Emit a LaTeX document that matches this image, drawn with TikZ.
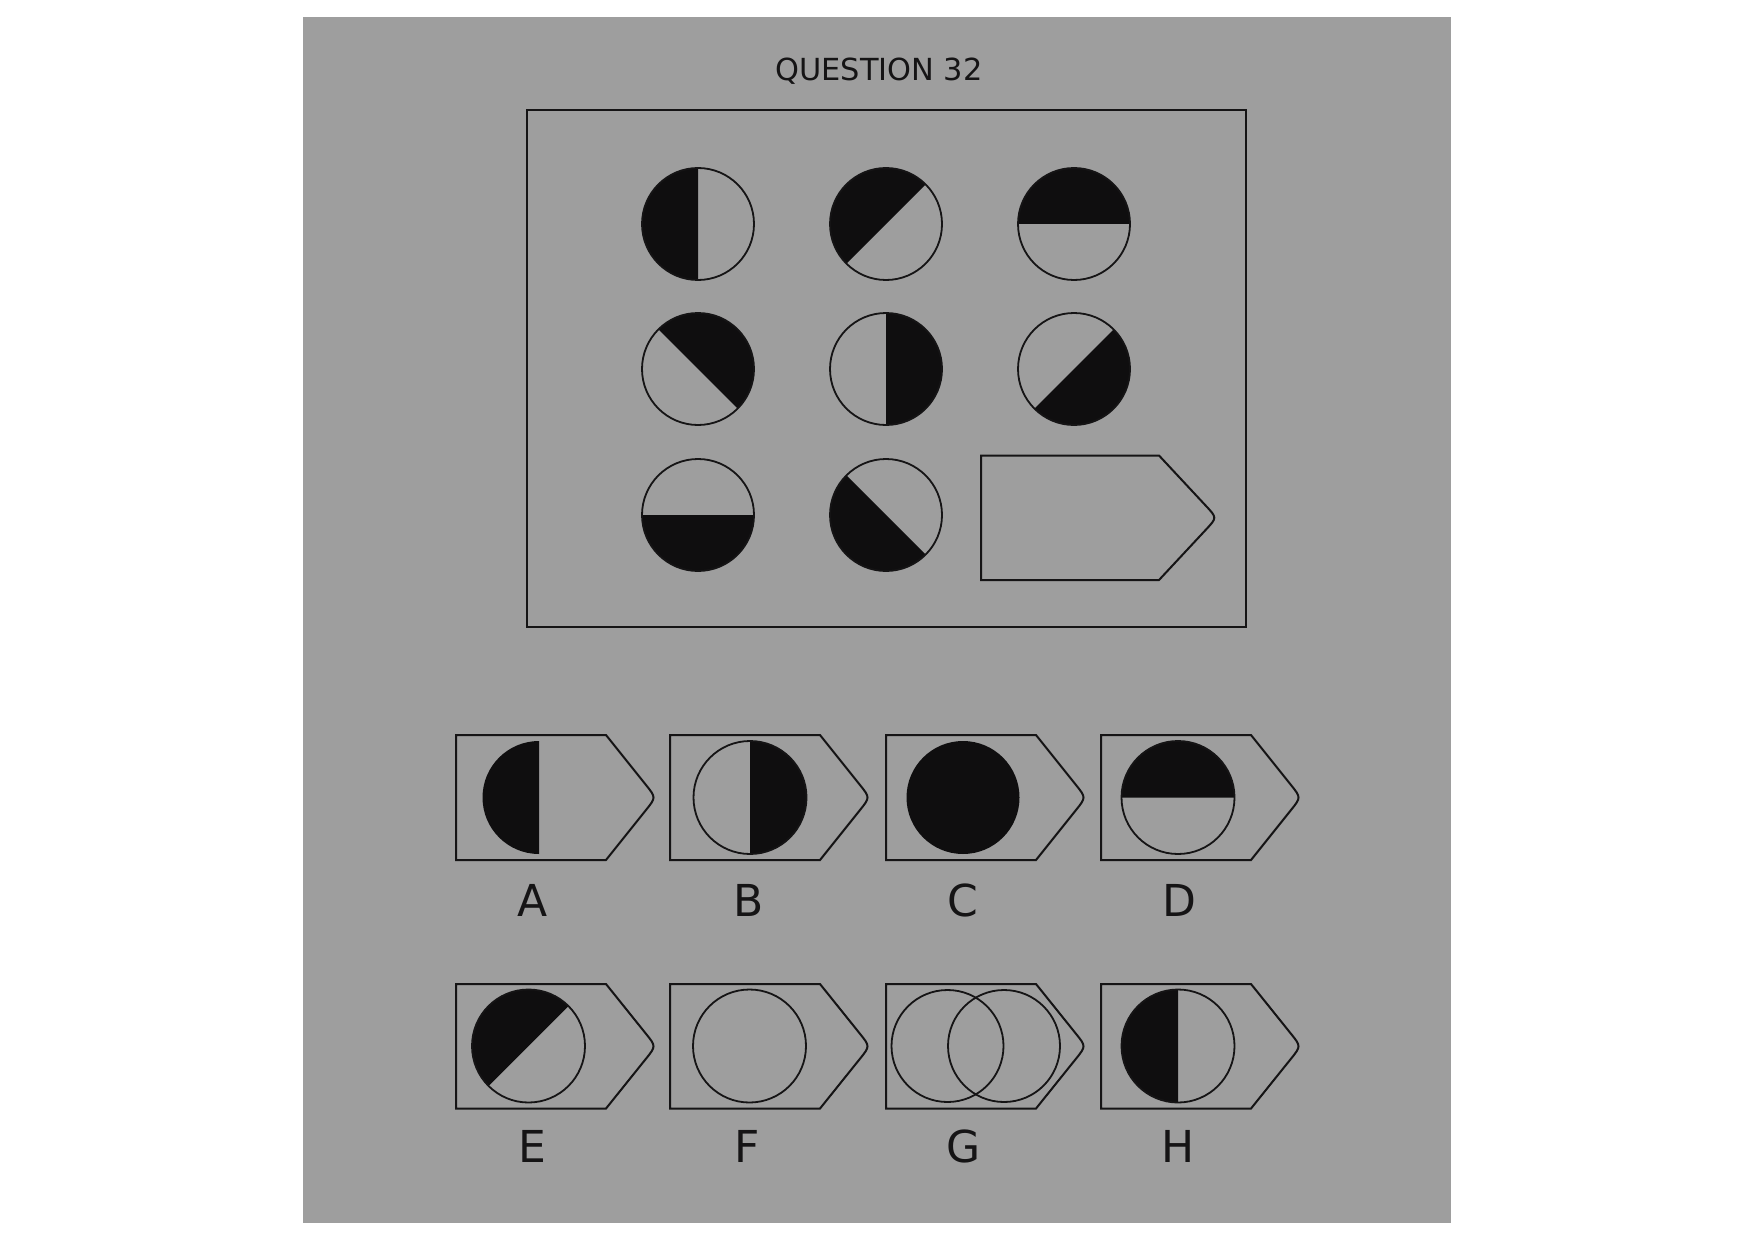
\documentclass[tikz,border=0pt]{standalone}
\usepackage{fontspec}
\setmainfont{DejaVu Sans}
\usetikzlibrary{calc}
\definecolor{bggray}{HTML}{9E9E9E}
\definecolor{ink}{HTML}{151415}
\definecolor{blk}{HTML}{0F0E0F}
\tikzset{
  pline/.style={draw=ink, line width=1pt, line join=miter},
  cline/.style={draw=ink, line width=0.9pt},
  blkfill/.style={fill=blk},
  lbl/.style={font=\fontsize{22pt}{24pt}\selectfont, text=ink, anchor=base, inner sep=0pt},
}
% pentagon: x y (top-left, px), rect width, height, tip width
\newcommand\pent[5]{%
  \coordinate (pUL) at (#1,-#2);
  \coordinate (pUR) at ({#1+#3},-#2);
  \coordinate (pT) at ({#1+#3+#5},{-#2-#4/2});
  \coordinate (pLR) at ({#1+#3},{-#2-#4});
  \coordinate (pLL) at (#1,{-#2-#4});
  \draw[pline] (pUL) -- (pUR) -- ($(pT)!8pt!(pUR)$) .. controls (pT) .. ($(pT)!8pt!(pLR)$) -- (pLR) -- (pLL) -- cycle;}
% half disk: x y r start-angle
\newcommand\halfdisk[4]{%
  \fill[blkfill] (#1,-#2) ++(#4:#3) arc[start angle=#4, end angle={#4+180}, radius=#3] -- cycle;}
\newcommand\ring[3]{\draw[cline] (#1,-#2) circle[radius=#3];}
\begin{document}
\begin{tikzpicture}[x=0.5pt,y=0.5pt]
\useasboundingbox (0,0) rectangle (1754,-1241);
\fill[bggray] (303,-17) rectangle (1451,-1223);
\node[font=\fontsize{15.2pt}{17pt}\selectfont, text=ink, anchor=base, inner sep=0pt] (title) at (879,-81) {QUESTION 32};
\draw[pline] (527,-110) rectangle (1246,-627);
% matrix
\halfdisk{698}{224}{56}{90}\ring{698}{224}{56}
\halfdisk{886}{224}{56}{45}\ring{886}{224}{56}
\halfdisk{1074}{224}{56}{0}\ring{1074}{224}{56}
\halfdisk{698}{369}{56}{-45}\ring{698}{369}{56}
\halfdisk{886}{369}{56}{-90}\ring{886}{369}{56}
\halfdisk{1074}{369}{56}{225}\ring{1074}{369}{56}
\halfdisk{698}{515}{56}{180}\ring{698}{515}{56}
\halfdisk{886}{515}{56}{135}\ring{886}{515}{56}
\pent{981}{455.5}{178}{124.5}{58}
% options row 1
\pent{456}{735}{150}{125}{50}
\pent{670}{735}{150}{125}{50}
\pent{886}{735}{150}{125}{50}
\pent{1101}{735}{150}{125}{50}
\halfdisk{539}{797.5}{56.5}{90}
\halfdisk{750}{797.5}{56.5}{-90}\ring{750}{797.5}{56.5}
\fill[blkfill] (963,-797.5) circle[radius=56.5];
\halfdisk{1178}{797.5}{56.5}{0}\ring{1178}{797.5}{56.5}
\node[lbl] (la) at (533,-916) {A};
\node[lbl] (lb) at (749,-916) {B};
\node[lbl] (lc) at (963,-916) {C};
\node[lbl] (ld) at (1179,-916) {D};
% options row 2
\pent{456}{984}{150}{124.5}{50}
\pent{670}{984}{150}{124.5}{50}
\pent{886}{984}{150}{124.5}{50}
\pent{1101}{984}{150}{124.5}{50}
\halfdisk{528.5}{1046}{56.5}{45}\ring{528.5}{1046}{56.5}
\ring{749.5}{1046}{56.5}
\ring{947.5}{1046}{56}
\ring{1004}{1046}{56}
\halfdisk{1178}{1046}{56.5}{90}\ring{1178}{1046}{56.5}
\node[lbl] (le) at (532,-1162.5) {E};
\node[lbl] (lf) at (747,-1162.5) {F};
\node[lbl] (lg) at (964,-1162.5) {G};
\node[lbl] (lh) at (1178,-1162.5) {H};
\end{tikzpicture}
\end{document}
